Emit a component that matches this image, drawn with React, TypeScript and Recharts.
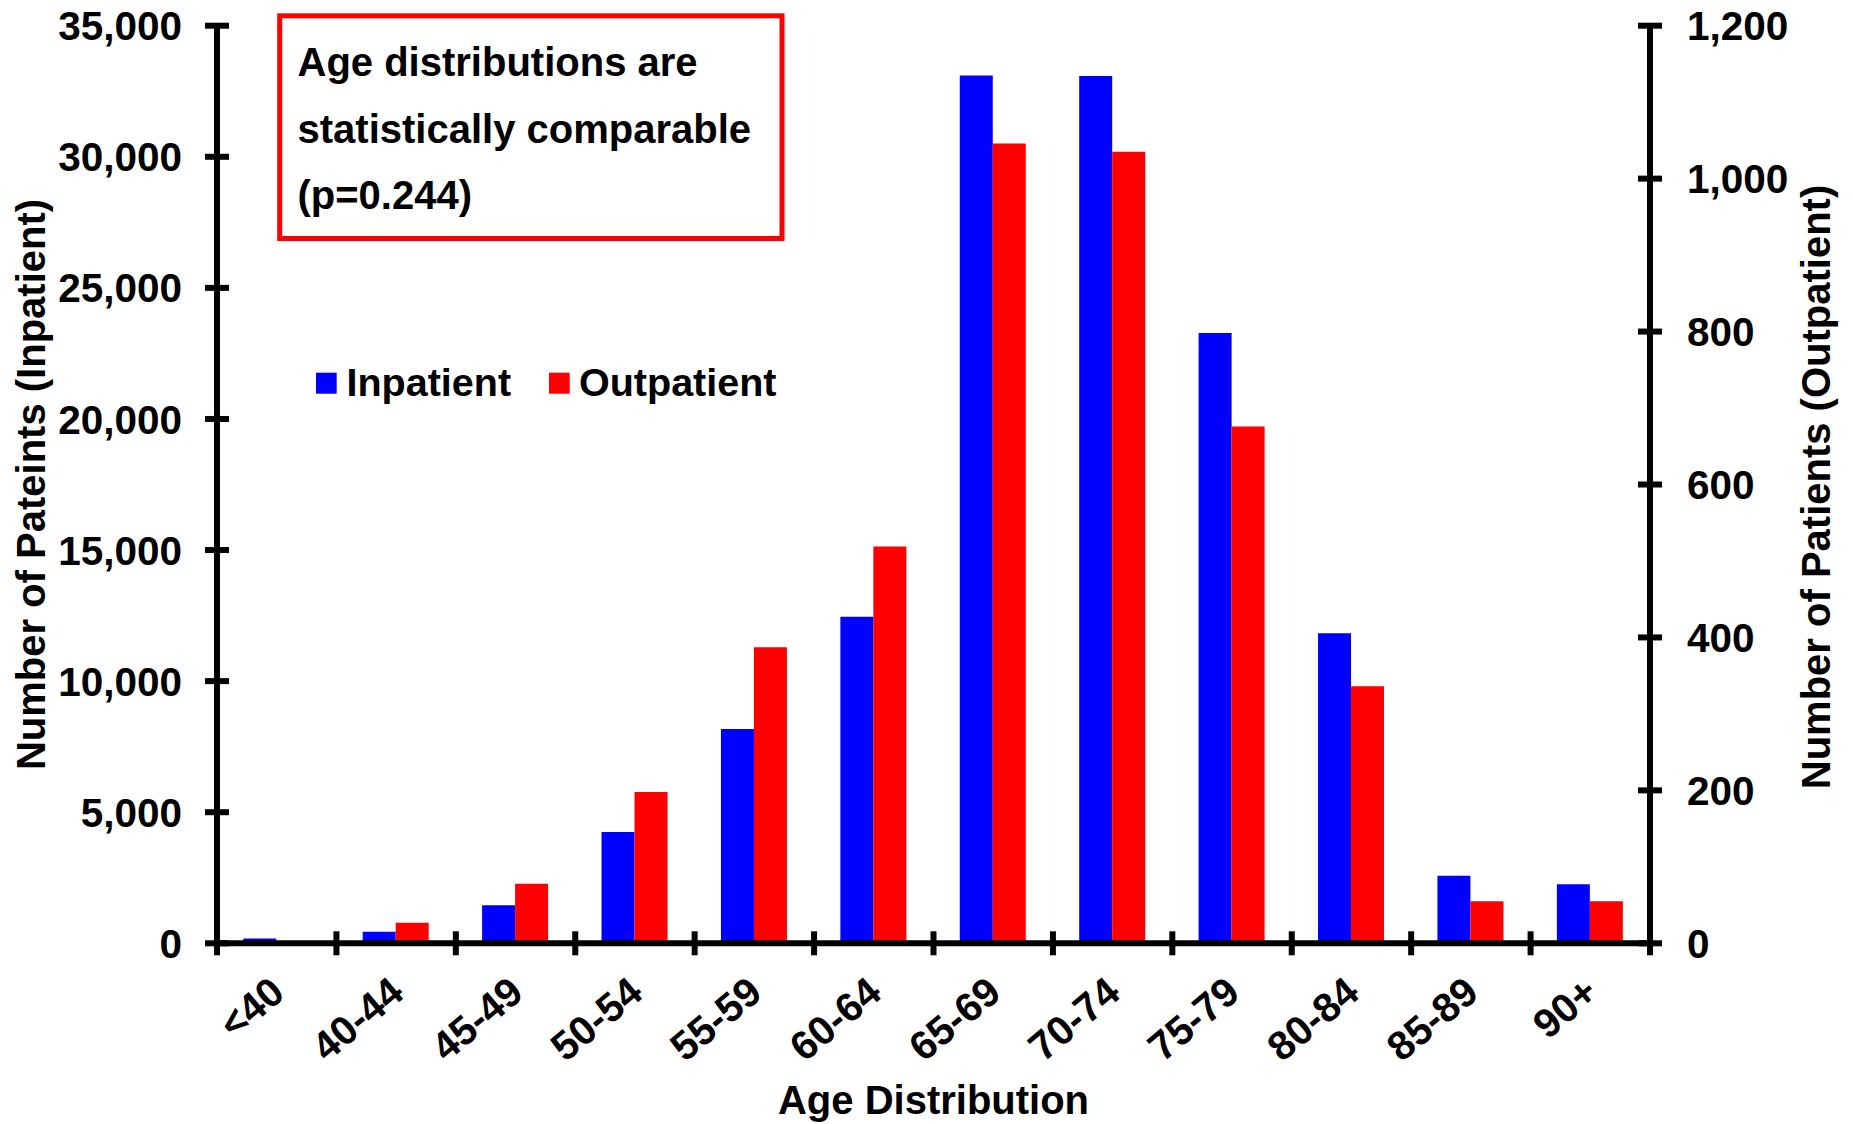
import React from 'react';
import { BarChart, Bar, XAxis, YAxis, Legend, Customized } from 'recharts';

// age groups and patient counts
const categories = ['<40', '40-44', '45-49', '50-54', '55-59', '60-64', '65-69', '70-74', '75-79', '80-84', '85-89', '90+'];
const inpatient = [180, 443, 1450, 4250, 8170, 12460, 33100, 33080, 23280, 11830, 2580, 2250];
const outpatient = [0, 27, 78, 198, 387, 519, 1046, 1035, 676, 336, 55, 55];
const leftTicks = [0, 5000, 10000, 15000, 20000, 25000, 30000, 35000];
const rightTicks = [0, 200, 400, 600, 800, 1000, 1200];

const data = categories.map((age, i) => ({
    age,
    inpatient: inpatient[i],
    outpatient: outpatient[i],
}));

const W = 1853;
const H = 1124;
const PLOT_L = 217;
const PLOT_R = 1650;
const PLOT_T = 25.7;
const PLOT_B = 943.3;
const Y_W = 150;
const X_H = 120;
const BAND = (PLOT_R - PLOT_L) / categories.length;
const FONT = 'Arial, "Liberation Sans", Helvetica, sans-serif';
const STROKE = 6;
const TICK_FS = 40.5;

const XTick = (props: any) => {
    const { x, y, payload } = props;
    const idx = categories.indexOf(payload.value);
    const ax = x + 10;
    const ay = y + 53;
    return (
        <g>
            <line x1={x - BAND / 2} x2={x - BAND / 2} y1={y - 12} y2={y + 12} stroke="#000" strokeWidth={STROKE} />
            {idx === categories.length - 1 && (
                <line x1={x + BAND / 2} x2={x + BAND / 2} y1={y - 12} y2={y + 12} stroke="#000" strokeWidth={STROKE} />
            )}
            <text
                x={ax}
                y={ay}
                textAnchor="end"
                transform={`rotate(-40, ${ax}, ${ay})`}
                fontFamily={FONT}
                fontWeight="bold"
                fontSize={TICK_FS}
                fill="#000"
            >
                {payload.value}
            </text>
        </g>
    );
};

const LeftTick = (props: any) => {
    const { x, y, payload } = props;
    return (
        <g>
            <line x1={x - 12} x2={x + 12} y1={y} y2={y} stroke="#000" strokeWidth={STROKE} />
            <text x={x - 35} y={y} dy="0.36em" textAnchor="end" fontFamily={FONT} fontWeight="bold" fontSize={TICK_FS} fill="#000">
                {Number(payload.value).toLocaleString('en-US')}
            </text>
        </g>
    );
};

const RightTick = (props: any) => {
    const { x, y, payload } = props;
    return (
        <g>
            <line x1={x - 12} x2={x + 12} y1={y} y2={y} stroke="#000" strokeWidth={STROKE} />
            <text x={x + 37} y={y} dy="0.36em" textAnchor="start" fontFamily={FONT} fontWeight="bold" fontSize={TICK_FS} fill="#000">
                {Number(payload.value).toLocaleString('en-US')}
            </text>
        </g>
    );
};

const LegendContent = () => (
    <svg width={520} height={60} style={{ display: 'block' }}>
        <g fontFamily={FONT} fontWeight="bold" fontSize={39.5} fill="#000">
            <rect x={16} y={22.7} width={20.7} height={21} fill="#0000FF" />
            <text x={46.5} y={46}>Inpatient</text>
            <rect x={249} y={22.7} width={20.7} height={21} fill="#FF0000" />
            <text x={279} y={46}>Outpatient</text>
        </g>
    </svg>
);

const Extras = () => (
    <g fontFamily={FONT} fontWeight="bold" fill="#000">
        <rect x={279.7} y={15.8} width={502.3} height={222.7} fill="#fff" stroke="#FF0000" strokeWidth={5} />
        <text x={297.5} y={76} fontSize={40}>Age distributions are</text>
        <text x={297.5} y={142.5} fontSize={40}>statistically comparable</text>
        <text x={297.5} y={209} fontSize={40}>(p=0.244)</text>
        <text x={(PLOT_L + PLOT_R) / 2} y={1114} textAnchor="middle" fontSize={40}>
            Age Distribution
        </text>
        <text transform={`translate(45, ${(PLOT_T + PLOT_B) / 2}) rotate(-90)`} textAnchor="middle" fontSize={40}>
            Number of Pateints (Inpatient)
        </text>
        <text transform={`translate(1830, 487) rotate(-90)`} textAnchor="middle" fontSize={40}>
            Number of Patients (Outpatient)
        </text>
    </g>
);

export default function App() {
    return (
        <div style={{ position: 'absolute', left: 0, top: 0, width: W, height: H, background: '#fff' }}>
            <BarChart
                width={W}
                height={H}
                data={data}
                barCategoryGap="22%"
                barGap={0}
                margin={{
                    top: PLOT_T,
                    left: PLOT_L - Y_W,
                    right: W - PLOT_R - Y_W,
                    bottom: H - PLOT_B - X_H,
                }}
            >
                <Bar yAxisId="left" dataKey="inpatient" name="Inpatient" fill="#0000FF" isAnimationActive={false} />
                <Bar yAxisId="right" dataKey="outpatient" name="Outpatient" fill="#FF0000" isAnimationActive={false} />
                <XAxis
                    dataKey="age"
                    height={X_H}
                    interval={0}
                    tickLine={false}
                    tickSize={0}
                    tickMargin={0}
                    axisLine={{ stroke: '#000', strokeWidth: STROKE }}
                    tick={<XTick />}
                />
                <YAxis
                    yAxisId="left"
                    orientation="left"
                    width={Y_W}
                    domain={[0, 35000]}
                    ticks={leftTicks}
                    interval={0}
                    tickLine={false}
                    tickSize={0}
                    tickMargin={0}
                    axisLine={{ stroke: '#000', strokeWidth: STROKE }}
                    tick={<LeftTick />}
                />
                <YAxis
                    yAxisId="right"
                    orientation="right"
                    width={Y_W}
                    domain={[0, 1200]}
                    ticks={rightTicks}
                    interval={0}
                    tickLine={false}
                    tickSize={0}
                    tickMargin={0}
                    axisLine={{ stroke: '#000', strokeWidth: STROKE }}
                    tick={<RightTick />}
                />
                <Legend
                    layout="horizontal"
                    align="center"
                    verticalAlign="middle"
                    wrapperStyle={{ position: 'absolute', left: 300, top: 350, width: 520, height: 60 }}
                    content={() => <LegendContent />}
                />
                <Customized component={Extras} />
            </BarChart>
        </div>
    );
}
